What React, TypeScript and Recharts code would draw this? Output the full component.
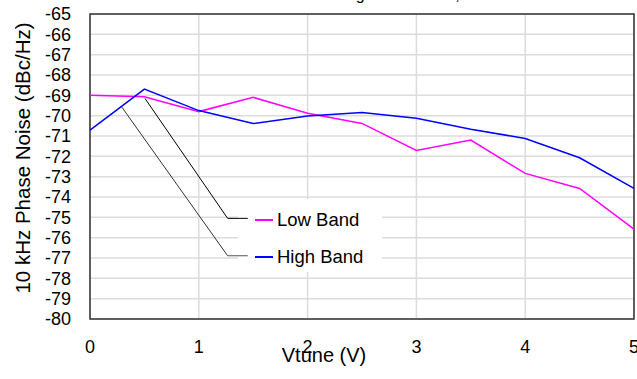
import { LineChart, Line, XAxis, YAxis, CartesianGrid, Legend, ReferenceArea, ReferenceLine } from "recharts";

const FONT = "Arial, 'Liberation Sans', sans-serif";

// tuning voltage (V) and 10 kHz phase noise (dBc/Hz)
const vtune = [0, 0.5, 1, 1.5, 2, 2.5, 3, 3.5, 4, 4.5, 5];
const lowBand = [-69.0, -69.07, -69.8, -69.1, -69.88, -70.38, -71.71, -71.2, -72.84, -73.58, -75.58];
const highBand = [-70.71, -68.69, -69.75, -70.39, -70.02, -69.84, -70.13, -70.67, -71.12, -72.07, -73.58];
const seriesNames = ["Low Band", "High Band"];

const xTicks = [0, 1, 2, 3, 4, 5];
const yTicks = [-80, -79, -78, -77, -76, -75, -74, -73, -72, -71, -70, -69, -68, -67, -66, -65];

const data = vtune.map((v, i) => ({ vtune: v, low: lowBand[i], high: highBand[i] }));

function LegendBox(props: any) {
  const items = [...(props.payload || [])].sort(
    (a: any, b: any) => seriesNames.indexOf(a.value) - seriesNames.indexOf(b.value)
  );
  return (
    <div style={{ fontFamily: FONT, fontSize: 18.5, color: "#000" }}>
      {items.map((it: any) => (
        <div key={it.value} style={{ display: "flex", alignItems: "center", height: 37.5 }}>
          <span style={{ display: "inline-block", width: 18, height: 2, background: it.color, marginRight: 4 }} />
          <span>{it.value}</span>
        </div>
      ))}
    </div>
  );
}

export default function App() {
  return (
    <div style={{ position: "absolute", left: 0, top: 0, width: 637, height: 379, background: "#fff" }}>
      <svg width={637} height={20} style={{ position: "absolute", left: 0, top: 0, overflow: "hidden" }}>
        <text x={201} y={0} fontSize={16} fontFamily={FONT} fill="#000">
          Phase Noise vs Tuning Within Band, TA = 25°C
        </text>
      </svg>
      <LineChart width={637} height={379} data={data} margin={{ top: 14, right: 3, bottom: 0, left: 0 }}>
        <CartesianGrid stroke="#dcdcdc" strokeWidth={1.5} vertical horizontal />
        <XAxis
          dataKey="vtune"
          type="number"
          domain={[0, 5]}
          ticks={xTicks}
          interval={0}
          height={60}
          tickSize={0}
          tickMargin={21}
          axisLine={false}
          tickLine={false}
          tick={{ fill: "#000", fontSize: 18, fontFamily: FONT }}
          label={{
            content: () => (
              <text x={324} y={362} textAnchor="middle" fontSize={20} fontFamily={FONT} fill="#000">
                Vtune (V)
              </text>
            ),
          }}
        />
        <YAxis
          type="number"
          domain={[-80, -65]}
          ticks={yTicks}
          interval={0}
          width={90}
          tickSize={0}
          tickMargin={19}
          axisLine={false}
          tickLine={false}
          tick={{ fill: "#000", fontSize: 18, fontFamily: FONT }}
          label={{
            content: () => (
              <text
                transform="translate(22,158) rotate(-90)"
                textAnchor="middle"
                dominantBaseline="central"
                fontSize={20.5}
                fontFamily={FONT}
                fill="#000"
              >
                10 kHz Phase Noise (dBc/Hz)
              </text>
            ),
          }}
        />
        <ReferenceArea x1={1.36} x2={2.684} y1={-77.69} y2={-74.1} fill="#fff" fillOpacity={1} stroke="none" />
        <ReferenceArea x1={0} x2={5} y1={-80} y2={-65} fill="none" stroke="#333" strokeWidth={1.5} />
        <ReferenceLine segment={[{ x: 0.505, y: -69.15 }, { x: 1.265, y: -75.05 }]} stroke="#000" strokeWidth={1} />
        <ReferenceLine segment={[{ x: 1.265, y: -75.05 }, { x: 1.45, y: -75.05 }]} stroke="#000" strokeWidth={1} />
        <ReferenceLine segment={[{ x: 0.29, y: -69.56 }, { x: 1.265, y: -76.89 }]} stroke="#333" strokeWidth={1} />
        <ReferenceLine segment={[{ x: 1.265, y: -76.89 }, { x: 1.45, y: -76.89 }]} stroke="#555" strokeWidth={1} />
        <Line dataKey="low" name="Low Band" stroke="#ff00ff" strokeWidth={1.5} dot={false} isAnimationActive={false} />
        <Line dataKey="high" name="High Band" stroke="#0000ff" strokeWidth={1.5} dot={false} isAnimationActive={false} />
        <Legend
          layout="vertical"
          align="center"
          verticalAlign="middle"
          content={LegendBox}
          wrapperStyle={{ left: 255, top: 201, width: "auto" }}
        />
      </LineChart>
    </div>
  );
}
